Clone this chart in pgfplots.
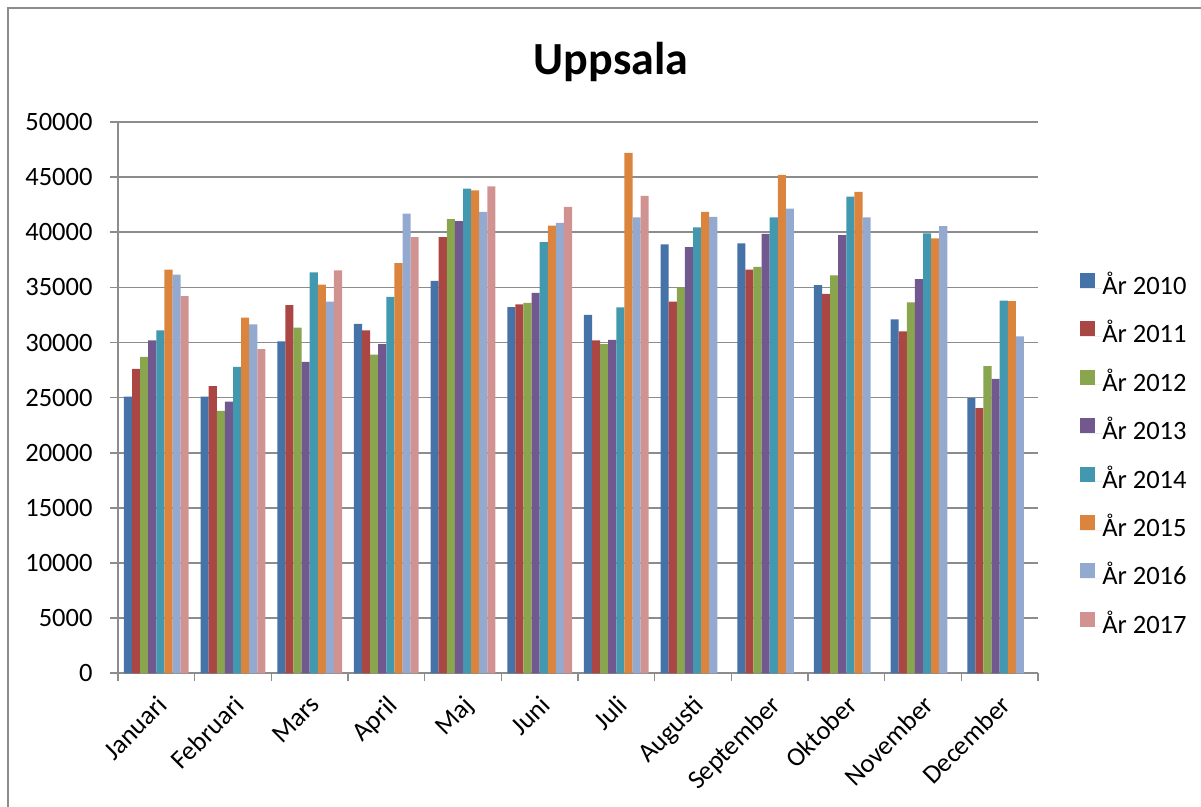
\documentclass[border=0pt]{standalone}
\usepackage{fontspec}
\setmainfont{Carlito}
\usepackage{pgfplots}
\pgfplotsset{compat=1.18}
\definecolor{c10}{HTML}{4572A7}
\definecolor{c11}{HTML}{AA4643}
\definecolor{c12}{HTML}{89A54E}
\definecolor{c13}{HTML}{71588F}
\definecolor{c14}{HTML}{4198AF}
\definecolor{c15}{HTML}{DB843D}
\definecolor{c16}{HTML}{93A9CF}
\definecolor{c17}{HTML}{D19392}
\definecolor{gridc}{HTML}{8C8C8C}
\pgfplotsset{sqlegend/.style={legend image code/.code={\fill[##1] (0bp,0bp) rectangle (15bp,15bp); \path (0bp,0bp) -- (22bp,0bp);}}}
\begin{document}
\begin{tikzpicture}[x=1bp,y=1bp]
\begin{axis}[
  at={(118bp,133.7bp)}, anchor=south west,
  scale only axis, width=920bp, height=551.3bp,
  ybar=0pt, bar width=8.1bp,
  xmin=-0.5, xmax=11.5, ymin=0, ymax=50000,
  ytick={0,5000,...,50000},
  scaled y ticks=false,
  xtick={0,...,11},
  xticklabels={Januari,Februari,Mars,April,Maj,Juni,Juli,Augusti,September,Oktober,November,December},
  minor xtick={-0.5,0.5,...,11.5},
  major x tick style={draw=none},
  tick align=outside,
  major tick length=8bp, minor tick length=8bp,
  axis x line*=bottom, axis y line*=left,
  axis line style={draw=gridc, line width=1.6bp, -},
  every tick/.style={draw=gridc, line width=1.6bp},
  minor tick style={draw=gridc, line width=1.6bp},
  ymajorgrids, grid style={draw=gridc, line width=1.6bp},
  tick label style={font=\fontsize{26.5bp}{30bp}\selectfont},
  /pgf/number format/assume math mode=true,
  /pgf/number format/1000 sep={},
  yticklabel style={xshift=-14bp},
  xticklabel style={rotate=45, anchor=north east, xshift=-6bp, yshift=-5bp},
  legend style={at={(1.0457,0.3947)}, anchor=west, draw=none, fill=none,
    font=\fontsize{26.5bp}{30bp}\selectfont, inner sep=0pt,
    row sep=21.9bp,
    nodes={inner sep=0pt, text height=18bp, text depth=5bp}},
  legend cell align=left,
]
\addplot[fill=c10, draw=none, sqlegend] coordinates {(0,25100) (1,25100) (2,30100) (3,31700) (4,35600) (5,33200) (6,32500) (7,38900) (8,39000) (9,35200) (10,32100) (11,24950)};
\addplot[fill=c11, draw=none, sqlegend] coordinates {(0,27600) (1,26050) (2,33400) (3,31100) (4,39550) (5,33450) (6,30200) (7,33700) (8,36600) (9,34400) (10,31000) (11,24050)};
\addplot[fill=c12, draw=none, sqlegend] coordinates {(0,28700) (1,23800) (2,31350) (3,28900) (4,41200) (5,33600) (6,29850) (7,35000) (8,36850) (9,36100) (10,33650) (11,27850)};
\addplot[fill=c13, draw=none, sqlegend] coordinates {(0,30200) (1,24650) (2,28250) (3,29850) (4,41000) (5,34500) (6,30250) (7,38650) (8,39850) (9,39750) (10,35750) (11,26700)};
\addplot[fill=c14, draw=none, sqlegend] coordinates {(0,31100) (1,27800) (2,36350) (3,34150) (4,43950) (5,39100) (6,33180) (7,40450) (8,41350) (9,43230) (10,39900) (11,33800)};
\addplot[fill=c15, draw=none, sqlegend] coordinates {(0,36600) (1,32250) (2,35250) (3,37200) (4,43800) (5,40600) (6,47200) (7,41850) (8,45200) (9,43670) (10,39450) (11,33750)};
\addplot[fill=c16, draw=none, sqlegend] coordinates {(0,36150) (1,31650) (2,33700) (3,41700) (4,41850) (5,40850) (6,41350) (7,41400) (8,42150) (9,41350) (10,40550) (11,30550)};
\addplot[fill=c17, draw=none, sqlegend] coordinates {(0,34200) (1,29400) (2,36550) (3,39550) (4,44150) (5,42300) (6,43300)};
\legend{År 2010,År 2011,År 2012,År 2013,År 2014,År 2015,År 2016,År 2017}
\end{axis}
\node[font=\bfseries\fontsize{46bp}{50bp}\selectfont, anchor=base] at (611,732) {Uppsala};
\draw[gridc, line width=1.6bp] (8,0) -- (8,799) -- (1201,799);
\pgfresetboundingbox
\path (0,0) rectangle (1201,807);
\end{tikzpicture}
\end{document}
